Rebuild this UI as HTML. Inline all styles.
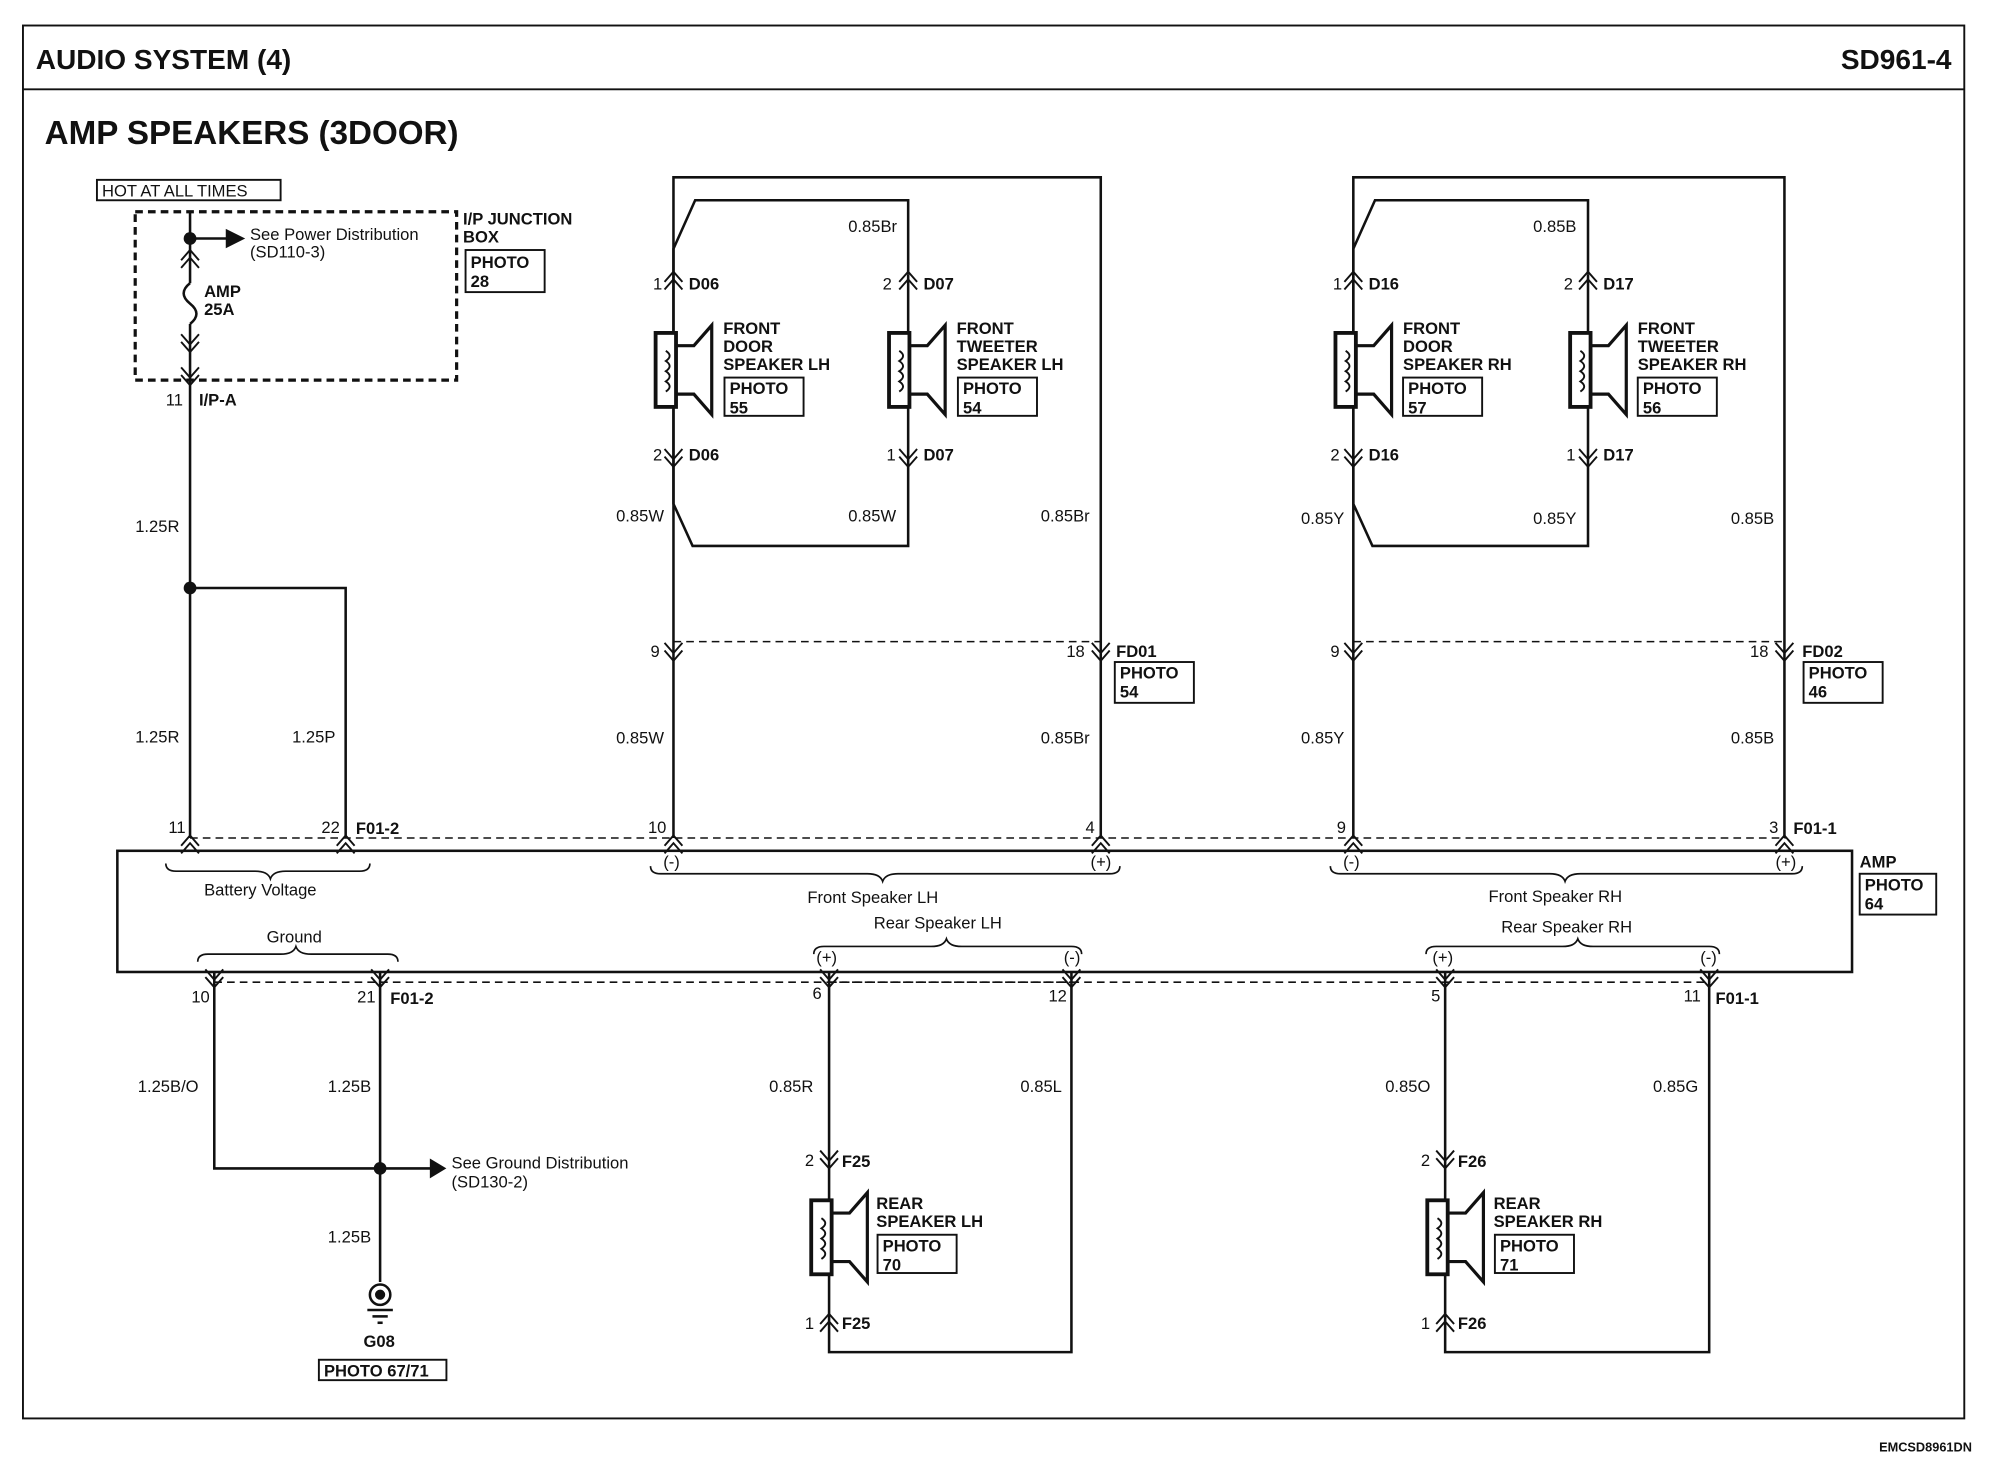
<!DOCTYPE html>
<html><head><meta charset="utf-8"><style>
html,body{margin:0;padding:0;background:#fff}
svg{display:block}
text{font-family:"Liberation Sans",Arial,sans-serif;fill:#111}
.b{font-weight:bold}
</style></head><body>
<svg width="2000" height="1472" viewBox="0 0 1568 1154" preserveAspectRatio="none" xmlns="http://www.w3.org/2000/svg">
<defs>
<g id="spk">
<rect x="0" y="0" width="16" height="58" fill="#fff" stroke="#111" stroke-width="3"/>
<path d="M16,10 L30,10 L44,-6 L44,64 L30,48 L16,48" fill="none" stroke="#111" stroke-width="2.5"/>
<path d="M8,14 q6,4 0,8 q6,4 0,8 q6,4 0,8 q6,4 0,8" fill="none" stroke="#111" stroke-width="1.5"/>
</g>
<g id="cu"><path d="M-7,8 L0,0 L7,8 M-7,14 L0,6 L7,14" fill="none" stroke="#111" stroke-width="1.5"/></g>
<g id="cd"><path d="M-7,-8 L0,0 L7,-8 M-7,-14 L0,-6 L7,-14" fill="none" stroke="#111" stroke-width="1.5"/></g>
</defs>
<g stroke="#111" fill="none" stroke-width="2">
<rect x="18" y="20" width="1522" height="1092" stroke-width="1.5"/>
<line x1="18" y1="70" x2="1540" y2="70" stroke-width="1.5"/>
<rect x="76" y="141" width="144" height="16" stroke-width="1.5"/>
<rect x="106" y="166" width="252" height="132" stroke-dasharray="6,4" stroke-width="2.5"/>
<rect x="365" y="196" width="62" height="33" stroke-width="1.5"/>
<line x1="149" y1="166" x2="149" y2="205"/>
<line x1="149" y1="187" x2="178" y2="187"/>
<path d="M178,181 L190,187 L178,193 Z" fill="#111"/>
<line x1="149" y1="205" x2="149" y2="222"/>
<path d="M149,222 q-10,8 0,16 q10,8 0,16" />
<line x1="149" y1="254" x2="149" y2="270"/>
<line x1="149" y1="270" x2="149" y2="657"/>
<polyline points="149,461 271,461 271,657"/>
<rect x="92" y="667" width="1360" height="95"/>
<rect x="1458" y="685" width="60" height="32" stroke-width="1.5"/>
<line x1="149" y1="657" x2="1400" y2="657" stroke-dasharray="6,4" stroke-width="1.2"/>
<line x1="168" y1="770" x2="840" y2="770" stroke-dasharray="6,4" stroke-width="1.2"/>
<line x1="650" y1="770" x2="1340" y2="770" stroke-dasharray="6,4" stroke-width="1.2"/>
<polyline points="168,762 168,916 298,916"/>
<line x1="298" y1="762" x2="298" y2="1005"/>
<line x1="298" y1="916" x2="338" y2="916"/>
<path d="M338,910 L348,916 L338,922 Z" fill="#111"/>
<circle cx="298" cy="1015" r="8"/><circle cx="298" cy="1015" r="3" fill="#111"/>
<line x1="288" y1="1027" x2="308" y2="1027"/><line x1="292" y1="1032" x2="304" y2="1032"/><line x1="296" y1="1037" x2="300" y2="1037"/>
<rect x="250" y="1066" width="100" height="16" stroke-width="1.5"/>
<polyline points="528,657 528,139 863,139 863,657"/>
<polyline points="528,215 528,195 545,157 712,157 712,215"/>
<polyline points="528,360 528,395 543,428 712,428 712,360"/>
<line x1="528" y1="215" x2="528" y2="260"/><line x1="528" y1="320" x2="528" y2="360"/>
<line x1="712" y1="215" x2="712" y2="260"/><line x1="712" y1="320" x2="712" y2="360"/>
<line x1="528" y1="503" x2="863" y2="503" stroke-dasharray="6,4" stroke-width="1.2"/>
<rect x="568" y="296" width="62" height="30" stroke-width="1.5"/>
<rect x="751" y="296" width="62" height="30" stroke-width="1.5"/>
<rect x="874" y="519" width="62" height="32" stroke-width="1.5"/>
<polyline points="1061,657 1061,139 1399,139 1399,657"/>
<polyline points="1061,215 1061,195 1078,157 1245,157 1245,215"/>
<polyline points="1061,360 1061,395 1076,428 1245,428 1245,360"/>
<line x1="1061" y1="215" x2="1061" y2="260"/><line x1="1061" y1="320" x2="1061" y2="360"/>
<line x1="1245" y1="215" x2="1245" y2="260"/><line x1="1245" y1="320" x2="1245" y2="360"/>
<line x1="1061" y1="503" x2="1399" y2="503" stroke-dasharray="6,4" stroke-width="1.2"/>
<rect x="1100" y="296" width="62" height="30" stroke-width="1.5"/>
<rect x="1284" y="296" width="62" height="30" stroke-width="1.5"/>
<rect x="1414" y="519" width="62" height="32" stroke-width="1.5"/>
<polyline points="650,762 650,940"/><polyline points="650,1000 650,1060 840,1060 840,762"/>
<polyline points="1133,762 1133,940"/><polyline points="1133,1000 1133,1060 1340,1060 1340,762"/>
<rect x="688" y="968" width="62" height="30" stroke-width="1.5"/>
<rect x="1172" y="968" width="62" height="30" stroke-width="1.5"/>
<path d="M130,677 q0,6 8,6 L200,683 q10,0 12,6 q2,-6 12,-6 L282,683 q8,0 8,-6" stroke-width="1.3"/>
<path d="M155,754 q0,-6 8,-6 L220,748 q10,0 12,-6 q2,6 12,6 L304,748 q8,0 8,6" stroke-width="1.3"/>
<path d="M510,679 q0,6 8,6 L680,685 q10,0 12,6 q2,-6 12,-6 L870,685 q8,0 8,-6" stroke-width="1.3"/>
<path d="M1043,679 q0,6 8,6 L1215,685 q10,0 12,6 q2,-6 12,-6 L1405,685 q8,0 8,-6" stroke-width="1.3"/>
<path d="M638,748 q0,-6 8,-6 L730,742 q10,0 12,-6 q2,6 12,6 L840,742 q8,0 8,6" stroke-width="1.3"/>
<path d="M1118,748 q0,-6 8,-6 L1225,742 q10,0 12,-6 q2,6 12,6 L1340,742 q8,0 8,6" stroke-width="1.3"/>
</g>
<circle cx="149" cy="187" r="5" fill="#111"/>
<circle cx="149" cy="461" r="5" fill="#111"/>
<circle cx="298" cy="916" r="5" fill="#111"/>
<use href="#spk" x="514" y="261"/><use href="#spk" x="697" y="261"/>
<use href="#spk" x="1047" y="261"/><use href="#spk" x="1231" y="261"/>
<use href="#spk" x="636" y="941"/><use href="#spk" x="1119" y="941"/>
<use href="#cu" x="149" y="196"/><use href="#cd" x="149" y="276"/>
<use href="#cd" x="149" y="302"/>
<use href="#cu" x="528" y="213"/><use href="#cu" x="712" y="213"/><use href="#cd" x="528" y="366"/><use href="#cd" x="712" y="366"/>
<use href="#cu" x="1061" y="213"/><use href="#cu" x="1245" y="213"/><use href="#cd" x="1061" y="366"/><use href="#cd" x="1245" y="366"/>
<use href="#cd" x="528" y="518"/><use href="#cd" x="863" y="518"/><use href="#cd" x="1061" y="518"/><use href="#cd" x="1399" y="518"/>
<use href="#cu" x="149" y="655"/><use href="#cu" x="271" y="655"/><use href="#cu" x="528" y="655"/><use href="#cu" x="863" y="655"/><use href="#cu" x="1061" y="655"/><use href="#cu" x="1399" y="655"/>
<use href="#cd" x="168" y="774"/><use href="#cd" x="298" y="774"/><use href="#cd" x="650" y="774"/><use href="#cd" x="840" y="774"/><use href="#cd" x="1133" y="774"/><use href="#cd" x="1340" y="774"/>
<use href="#cd" x="650" y="916"/><use href="#cu" x="650" y="1030"/><use href="#cd" x="1133" y="916"/><use href="#cu" x="1133" y="1030"/>
<text x="28" y="54" class="b" font-size="22">AUDIO SYSTEM (4)</text>
<text x="1530" y="54" class="b" font-size="22" text-anchor="end">SD961-4</text>
<text x="35" y="113" class="b" font-size="26" fill="#222">AMP SPEAKERS (3DOOR)</text>
<g font-size="13">
<text x="80" y="154">HOT AT ALL TIMES</text>
<text x="196" y="188">See Power Distribution</text><text x="196" y="202">(SD110-3)</text>
<text x="363" y="176" class="b">I/P JUNCTION</text><text x="363" y="190" class="b">BOX</text>
<text x="369" y="210" class="b">PHOTO</text><text x="369" y="225" class="b">28</text>
<text x="160" y="233" class="b">AMP</text><text x="160" y="247" class="b">25A</text>
<text x="130" y="318">11</text><text x="156" y="318" class="b">I/P-A</text>
<text x="106" y="417">1.25R</text><text x="106" y="582">1.25R</text><text x="229" y="582">1.25P</text>
<text x="132" y="653">11</text><text x="252" y="653">22</text><text x="279" y="654" class="b">F01-2</text>
<text x="160" y="702">Battery Voltage</text><text x="209" y="739">Ground</text>
<text x="150" y="786">10</text><text x="280" y="786">21</text><text x="306" y="787" class="b">F01-2</text>
<text x="108" y="856">1.25B/O</text><text x="257" y="856">1.25B</text>
<text x="354" y="916">See Ground Distribution</text><text x="354" y="931">(SD130-2)</text>
<text x="257" y="974">1.25B</text>
<text x="285" y="1056" class="b">G08</text><text x="254" y="1079" class="b">PHOTO 67/71</text>
<text x="665" y="182">0.85Br</text>
<text x="512" y="227">1</text><text x="540" y="227" class="b">D06</text><text x="692" y="227">2</text><text x="724" y="227" class="b">D07</text>
<text x="567" y="262" class="b">FRONT</text><text x="567" y="276" class="b">DOOR</text><text x="567" y="290" class="b">SPEAKER LH</text>
<text x="572" y="309" class="b">PHOTO</text><text x="572" y="324" class="b">55</text>
<text x="750" y="262" class="b">FRONT</text><text x="750" y="276" class="b">TWEETER</text><text x="750" y="290" class="b">SPEAKER LH</text>
<text x="755" y="309" class="b">PHOTO</text><text x="755" y="324" class="b">54</text>
<text x="512" y="361">2</text><text x="540" y="361" class="b">D06</text><text x="695" y="361">1</text><text x="724" y="361" class="b">D07</text>
<text x="483" y="409">0.85W</text><text x="665" y="409">0.85W</text><text x="816" y="409">0.85Br</text>
<text x="510" y="515">9</text><text x="836" y="515">18</text><text x="875" y="515" class="b">FD01</text>
<text x="878" y="532" class="b">PHOTO</text><text x="878" y="547" class="b">54</text>
<text x="483" y="583">0.85W</text><text x="816" y="583">0.85Br</text>
<text x="508" y="653">10</text><text x="851" y="653">4</text>
<text x="520" y="680">(-)</text><text x="855" y="680">(+)</text>
<text x="633" y="708">Front Speaker LH</text><text x="685" y="728">Rear Speaker LH</text>
<text x="640" y="755">(+)</text><text x="834" y="755">(-)</text>
<text x="637" y="783">6</text><text x="822" y="785">12</text>
<text x="603" y="856">0.85R</text><text x="800" y="856">0.85L</text>
<text x="631" y="914">2</text><text x="660" y="915" class="b">F25</text>
<text x="687" y="948" class="b">REAR</text><text x="687" y="962" class="b">SPEAKER LH</text>
<text x="692" y="981" class="b">PHOTO</text><text x="692" y="996" class="b">70</text>
<text x="631" y="1042">1</text><text x="660" y="1042" class="b">F25</text>
<text x="1202" y="182">0.85B</text>
<text x="1045" y="227">1</text><text x="1073" y="227" class="b">D16</text><text x="1226" y="227">2</text><text x="1257" y="227" class="b">D17</text>
<text x="1100" y="262" class="b">FRONT</text><text x="1100" y="276" class="b">DOOR</text><text x="1100" y="290" class="b">SPEAKER RH</text>
<text x="1104" y="309" class="b">PHOTO</text><text x="1104" y="324" class="b">57</text>
<text x="1284" y="262" class="b">FRONT</text><text x="1284" y="276" class="b">TWEETER</text><text x="1284" y="290" class="b">SPEAKER RH</text>
<text x="1288" y="309" class="b">PHOTO</text><text x="1288" y="324" class="b">56</text>
<text x="1043" y="361">2</text><text x="1073" y="361" class="b">D16</text><text x="1228" y="361">1</text><text x="1257" y="361" class="b">D17</text>
<text x="1020" y="411">0.85Y</text><text x="1202" y="411">0.85Y</text><text x="1357" y="411">0.85B</text>
<text x="1043" y="515">9</text><text x="1372" y="515">18</text><text x="1413" y="515" class="b">FD02</text>
<text x="1418" y="532" class="b">PHOTO</text><text x="1418" y="547" class="b">46</text>
<text x="1020" y="583">0.85Y</text><text x="1357" y="583">0.85B</text>
<text x="1048" y="653">9</text><text x="1387" y="653">3</text><text x="1406" y="654" class="b">F01-1</text>
<text x="1053" y="680">(-)</text><text x="1392" y="680">(+)</text>
<text x="1167" y="707">Front Speaker RH</text><text x="1177" y="731">Rear Speaker RH</text>
<text x="1123" y="755">(+)</text><text x="1333" y="755">(-)</text>
<text x="1122" y="785">5</text><text x="1320" y="785">11</text><text x="1345" y="787" class="b">F01-1</text>
<text x="1086" y="856">0.85O</text><text x="1296" y="856">0.85G</text>
<text x="1114" y="914">2</text><text x="1143" y="915" class="b">F26</text>
<text x="1171" y="948" class="b">REAR</text><text x="1171" y="962" class="b">SPEAKER RH</text>
<text x="1176" y="981" class="b">PHOTO</text><text x="1176" y="996" class="b">71</text>
<text x="1114" y="1042">1</text><text x="1143" y="1042" class="b">F26</text>
<text x="1458" y="680" class="b">AMP</text>
<text x="1462" y="698" class="b">PHOTO</text><text x="1462" y="713" class="b">64</text>
</g>
<text x="1546" y="1138" font-size="10" text-anchor="end" class="b">EMCSD8961DN</text>
</svg>
</body></html>
